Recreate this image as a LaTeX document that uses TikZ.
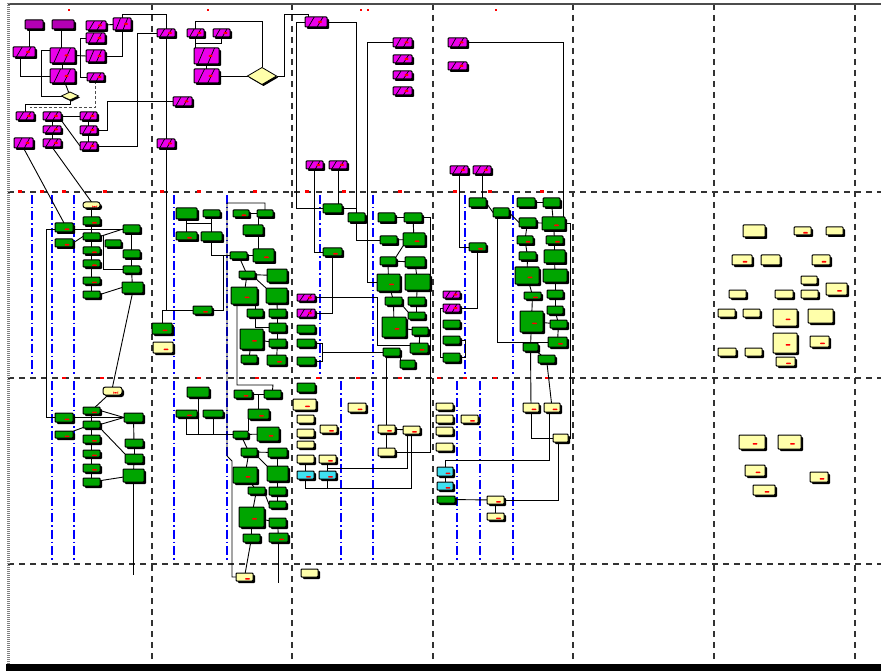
\documentclass[tikz,border=0pt]{standalone}
\usetikzlibrary{shapes.geometric,shadows,calc,backgrounds}
\definecolor{gcol}{RGB}{0,165,0}
\definecolor{ycol}{RGB}{255,255,170}
\definecolor{ccol}{RGB}{64,224,240}
\definecolor{mcol}{RGB}{235,0,235}
\definecolor{pcol}{RGB}{180,0,180}
\definecolor{gridcol}{RGB}{50,50,50}
\tikzset{
 bxs/.style={draw=black,line width=1pt,inner sep=0pt,outer sep=0pt,rectangle,rounded corners=0.8pt,
   general shadow={fill=black,shadow xshift=2pt,shadow yshift=-2pt}},
 gb/.style={bxs,fill=gcol},
 yb/.style={bxs,fill=ycol},
 yr/.style={bxs,fill=ycol,rounded corners=2.5pt},
 cb/.style={bxs,fill=ccol},
 pb/.style={bxs,fill=pcol},
 mb/.style={bxs,fill=mcol,path picture={
   \path (path picture bounding box.south west) coordinate (ha)
         (path picture bounding box.south east) coordinate (hb)
         (path picture bounding box.north west) coordinate (hc)
         (path picture bounding box.north east) coordinate (hd);
   \draw[line width=0.7pt] ($(ha)!0.15!(hb)$) -- ($(hc)!0.42!(hd)$) ($(ha)!0.55!(hb)$) -- ($(hc)!0.82!(hd)$);
   \fill[red] ($(ha)!0.5!(hd)+(2,-1)$) rectangle ++(4,2);}},
 rd/.style={path picture={\fill[red] ([xshift=0.5pt,yshift=-1pt]path picture bounding box.center) rectangle ++(5,1.6);}},
 dm/.style={diamond,draw=black,fill=ycol,line width=0.8pt,inner sep=0pt,outer sep=0pt,
   general shadow={fill=black,shadow xshift=1.5pt,shadow yshift=-1.5pt}},
 cn/.style={draw=black,line width=0.9pt},
 gl/.style={draw=gridcol,line width=1.2pt,dash pattern=on 6pt off 5pt},
 bl/.style={draw=blue,line width=1.2pt,dash pattern=on 9pt off 3pt on 1.5pt off 3pt},
}
\newcommand\nd[6]{%
 \pgfmathsetmacro\ndw{#5-#3}\pgfmathsetmacro\ndh{#6-#4}%
 \pgfmathsetmacro\ndx{(#3+#5)/2}\pgfmathsetmacro\ndy{(#4+#6)/2}%
 \node[#2,minimum width=\ndw pt,minimum height=\ndh pt] (#1) at (\ndx,\ndy) {};}
\begin{document}
\begin{tikzpicture}[x=1pt,y=-1pt]
\useasboundingbox (0,0) rectangle (881,671);
% ---------- row 1 ----------
\nd{m1}{pb}{25}{20}{43}{29}
\nd{m2}{pb}{52}{20}{74}{29}
\nd{m3}{mb}{86}{21}{106}{30}
\nd{m4}{mb}{113}{18}{131}{30}
\nd{m5}{mb}{13}{47}{35}{57}
\nd{m6}{mb}{50}{48}{75}{63}
\nd{m7}{mb}{50}{69}{75}{83}
\nd{m8}{mb}{86}{33}{105}{43}
\nd{m9}{mb}{86}{50}{105}{62}
\nd{m10}{mb}{87}{73}{104}{81}
\node[dm,minimum width=17pt,minimum height=8pt] (d1) at (70,96) {};
\nd{m11}{mb}{16}{112}{34}{120}
\nd{m12}{mb}{43}{112}{61}{120}
\nd{m13}{mb}{80}{112}{97}{120}
\nd{m14}{mb}{43}{126}{61}{133}
\nd{m15}{mb}{80}{126}{97}{134}
\nd{m16}{mb}{14}{138}{33}{148}
\nd{m17}{mb}{43}{139}{61}{147}
\nd{m18}{mb}{80}{142}{97}{150}
\nd{m19}{mb}{173}{97}{192}{106}
\nd{m20}{mb}{157}{29}{175}{37}
\nd{m21}{mb}{157}{139}{175}{148}
\nd{m22}{mb}{187}{29}{204}{37}
\nd{m23}{mb}{213}{29}{230}{37}
\nd{m24}{mb}{194}{48}{219}{64}
\nd{m25}{mb}{194}{69}{219}{83}
\node[dm,minimum width=29pt,minimum height=17pt] (d2) at (262,76) {};
\nd{m26}{mb}{305}{17}{327}{27}
\nd{m27}{mb}{393}{38}{412}{47}
\nd{m28}{mb}{393}{55}{412}{63}
\nd{m29}{mb}{393}{71}{412}{79}
\nd{m30}{mb}{393}{87}{412}{95}
\nd{m31}{mb}{448}{38}{467}{47}
\nd{m32}{mb}{448}{62}{467}{70}
\nd{m33}{mb}{306}{161}{323}{169}
\nd{m34}{mb}{329}{161}{347}{169}
\nd{m35}{mb}{450}{166}{468}{174}
\nd{m36}{mb}{473}{166}{491}{174}
% ---------- row 2, col 1 ----------
\nd{y1}{yr,rd}{83}{202}{100}{208}
\nd{g1}{gb,rd}{83}{217}{100}{225}
\nd{g2}{gb,rd}{55}{223}{73}{232}
\nd{g3}{gb}{123}{225}{140}{233}
\nd{g4}{gb}{83}{233}{100}{240}
\nd{g5}{gb,rd}{55}{239}{73}{247}
\nd{g6}{gb}{105}{240}{121}{247}
\nd{g7}{gb,rd}{83}{247}{100}{254}
\nd{g8}{gb}{123}{250}{140}{258}
\nd{g9}{gb,rd}{83}{260}{100}{267}
\nd{g10}{gb}{123}{266}{140}{273}
\nd{g11}{gb,rd}{83}{277}{100}{284}
\nd{g12}{gb}{122}{282}{143}{293}
\nd{g13}{gb}{83}{291}{100}{298}
% ---------- row 2, col 2 ----------
\nd{h1}{gb}{176}{208}{197}{219}
\nd{h2}{gb}{203}{210}{220}{217}
\nd{h3}{gb,rd}{176}{232}{197}{240}
\nd{h4}{gb}{201}{232}{222}{241}
\nd{h5}{gb,rd}{193}{306}{212}{314}
\nd{h6}{gb,rd}{152}{323}{172}{334}
\nd{y3}{yb,rd}{153}{342}{173}{353}
\nd{h7}{gb,rd}{233}{210}{249}{217}
\nd{h8}{gb}{257}{210}{273}{217}
\nd{h9}{gb}{243}{225}{263}{235}
\nd{h10}{gb}{230}{252}{247}{259}
\nd{h11}{gb,rd}{253}{249}{274}{262}
\nd{h12}{gb}{239}{271}{255}{278}
\nd{h13}{gb}{267}{269}{287}{282}
\nd{h14}{gb,rd}{231}{287}{257}{304}
\nd{h15}{gb}{266}{288}{287}{303}
\nd{h16}{gb}{247}{309}{263}{317}
\nd{h17}{gb}{269}{309}{286}{317}
\nd{h18}{gb}{269}{323}{286}{332}
\nd{h19}{gb,rd}{240}{329}{263}{349}
\nd{h20}{gb}{269}{339}{286}{347}
\nd{h21}{gb}{241}{355}{257}{363}
\nd{h22}{gb,rd}{267}{355}{286}{365}
% ---------- row 2, col 3 ----------
\nd{q1}{gb}{323}{204}{342}{213}
\nd{q2}{gb}{348}{213}{365}{222}
\nd{q3}{gb}{378}{213}{395}{222}
\nd{q4}{gb}{404}{213}{422}{222}
\nd{q5}{gb}{380}{236}{397}{244}
\nd{q6}{gb,rd}{403}{233}{425}{246}
\nd{q7}{gb,rd}{323}{248}{342}{256}
\nd{q8}{gb}{380}{257}{396}{265}
\nd{q9}{gb}{405}{257}{425}{267}
\nd{q10}{gb,rd}{377}{274}{400}{291}
\nd{q11}{gb}{405}{274}{430}{290}
\nd{q12}{gb}{385}{297}{402}{305}
\nd{q13}{gb}{408}{297}{425}{305}
\nd{q14}{gb}{408}{312}{425}{319}
\nd{q15}{gb,rd}{382}{317}{406}{337}
\nd{q16}{gb}{412}{327}{428}{335}
\nd{q17}{gb,rd}{410}{343}{428}{353}
\nd{q18}{gb}{383}{348}{400}{356}
\nd{q19}{gb}{400}{360}{415}{368}
\nd{pm1}{mb}{297}{294}{315}{301}
\nd{pm2}{mb}{297}{309}{315}{317}
\nd{q20}{gb}{297}{325}{315}{333}
\nd{q21}{gb}{297}{339}{315}{347}
\nd{q22}{gb}{297}{357}{315}{365}
% ---------- row 2, col 4 ----------
\nd{s1}{gb}{469}{198}{486}{207}
\nd{s2}{gb}{493}{208}{509}{217}
\nd{s3}{gb}{517}{198}{535}{207}
\nd{s4}{gb}{543}{198}{560}{207}
\nd{s5}{gb}{519}{218}{536}{227}
\nd{s6}{gb,rd}{542}{217}{565}{230}
\nd{s7}{gb,rd}{469}{243}{486}{251}
\nd{s8}{gb,rd}{517}{236}{533}{244}
\nd{s9}{gb,rd}{546}{236}{563}{244}
\nd{s10}{gb}{519}{252}{536}{260}
\nd{s11}{gb}{544}{250}{565}{263}
\nd{s12}{gb,rd}{515}{267}{539}{284}
\nd{s13}{gb}{543}{269}{567}{282}
\nd{s14}{gb,rd}{524}{292}{541}{299}
\nd{s15}{gb}{547}{290}{563}{298}
\nd{s16}{gb}{547}{306}{563}{314}
\nd{s17}{gb,rd}{520}{311}{543}{332}
\nd{s18}{gb}{550}{320}{567}{328}
\nd{s19}{gb,rd}{548}{337}{567}{347}
\nd{s20}{gb}{523}{343}{538}{351}
\nd{s21}{gb}{538}{355}{555}{363}
\nd{pm3}{mb}{443}{291}{460}{298}
\nd{pm4}{mb}{443}{304}{460}{312}
\nd{s22}{gb}{443}{320}{460}{328}
\nd{s23}{gb}{443}{336}{460}{344}
\nd{s24}{gb}{443}{353}{460}{362}
% ---------- row 3, col 1 ----------
\nd{y2}{yr,rd}{103}{387}{122}{395}
\nd{k1}{gb,rd}{83}{407}{100}{414}
\nd{k2}{gb,rd}{55}{413}{73}{422}
\nd{k3}{gb}{124}{413}{143}{422}
\nd{k4}{gb}{83}{421}{100}{428}
\nd{k5}{gb,rd}{55}{431}{73}{438}
\nd{k6}{gb,rd}{83}{435}{100}{443}
\nd{k7}{gb}{125}{439}{143}{447}
\nd{k8}{gb,rd}{83}{450}{100}{457}
\nd{k9}{gb}{125}{454}{143}{463}
\nd{k10}{gb,rd}{83}{464}{100}{472}
\nd{k11}{gb}{123}{469}{144}{482}
\nd{k12}{gb}{83}{478}{100}{486}
% ---------- row 3, col 2 ----------
\nd{l1}{gb}{187}{387}{209}{397}
\nd{l2}{gb,rd}{176}{410}{197}{417}
\nd{l3}{gb}{203}{410}{223}{417}
\nd{l4}{gb}{233}{431}{248}{438}
\nd{l5}{gb,rd}{234}{390}{252}{398}
\nd{l6}{gb}{264}{390}{281}{398}
\nd{l7}{gb,rd}{248}{409}{269}{419}
\nd{l8}{gb,rd}{257}{427}{279}{441}
\nd{l9}{gb}{241}{448}{257}{456}
\nd{l10}{gb}{268}{448}{287}{457}
\nd{l11}{gb,rd}{233}{467}{257}{483}
\nd{l12}{gb}{267}{466}{288}{481}
\nd{l13}{gb}{248}{487}{265}{494}
\nd{l14}{gb}{269}{487}{286}{495}
\nd{l15}{gb}{269}{501}{286}{508}
\nd{l16}{gb,rd}{239}{507}{264}{527}
\nd{l17}{gb}{269}{518}{286}{527}
\nd{l18}{gb}{243}{534}{260}{542}
\nd{l19}{gb,rd}{269}{533}{288}{542}
\nd{ybot}{yb,rd}{236}{573}{253}{581}
% ---------- row 3, col 3 ----------
\nd{r1}{gb}{297}{383}{315}{392}
\nd{r2}{yb,rd}{293}{399}{316}{410}
\nd{r3}{yb}{297}{415}{314}{423}
\nd{r4}{yb}{297}{429}{314}{437}
\nd{r5}{yb}{297}{441}{314}{448}
\nd{r6}{yb}{297}{455}{314}{463}
\nd{r7}{yb,rd}{319}{455}{336}{463}
\nd{c1}{cb,rd}{297}{471}{314}{479}
\nd{c2}{cb,rd}{319}{471}{336}{479}
\nd{r8}{yb,rd}{320}{425}{337}{433}
\nd{r9}{yb,rd}{348}{403}{366}{412}
\nd{r10}{yb,rd}{378}{425}{395}{433}
\nd{r11}{yb,rd}{403}{426}{420}{434}
\nd{r12}{yb}{378}{448}{395}{456}
\nd{r13}{yb}{301}{569}{318}{577}
% ---------- row 3, col 4 ----------
\nd{u1}{yb}{436}{403}{453}{410}
\nd{u2}{yb}{436}{415}{453}{423}
\nd{u3}{yb}{436}{427}{453}{435}
\nd{u4}{yb}{436}{443}{453}{451}
\nd{u5}{yb}{553}{434}{568}{442}
\nd{u6}{yb,rd}{461}{415}{478}{423}
\nd{c3}{cb,rd}{437}{467}{453}{476}
\nd{c4}{cb,rd}{437}{482}{453}{490}
\nd{u7}{gb}{437}{496}{455}{503}
\nd{u8}{yb,rd}{487}{496}{504}{504}
\nd{u9}{yb,rd}{487}{513}{504}{520}
\nd{u10}{yb,rd}{523}{403}{539}{412}
\nd{u11}{yb,rd}{544}{403}{560}{412}
% ---------- right cluster ----------
\nd{v1}{yb}{743}{225}{765}{237}
\nd{v2}{yb,rd}{794}{227}{811}{235}
\nd{v3}{yb}{826}{227}{843}{235}
\nd{v4}{yb,rd}{732}{255}{752}{265}
\nd{v5}{yb}{761}{255}{780}{265}
\nd{v6}{yb,rd}{812}{255}{830}{265}
\nd{v7}{yb}{801}{276}{817}{284}
\nd{v8}{yb,rd}{826}{283}{847}{295}
\nd{v9}{yb}{729}{290}{746}{298}
\nd{v10}{yb}{775}{290}{793}{298}
\nd{v11}{yb}{801}{290}{818}{298}
\nd{v12}{yb}{718}{309}{735}{317}
\nd{v13}{yb}{743}{309}{760}{317}
\nd{v14}{yb,rd}{773}{309}{797}{326}
\nd{v15}{yb}{808}{309}{833}{323}
\nd{v16}{yb,rd}{773}{333}{797}{353}
\nd{v17}{yb,rd}{810}{336}{829}{347}
\nd{v18}{yb}{718}{348}{736}{356}
\nd{v19}{yb}{745}{348}{762}{356}
\nd{v20}{yb,rd}{776}{357}{795}{366}
\nd{w1}{yb,rd}{739}{435}{765}{449}
\nd{w2}{yb,rd}{778}{435}{801}{449}
\nd{w3}{yb,rd}{745}{465}{765}{476}
\nd{w4}{yb,rd}{753}{485}{775}{495}
\nd{w5}{yb,rd}{810}{472}{828}{482}
% ---------- helper coordinates ----------
\coordinate (c1p) at (41,50);
\coordinate (c2p) at (273,385);
\coordinate (c3p) at (377,345);
\coordinate (c4p) at (407,468);
\coordinate (c5p) at (411,488);
\coordinate (c6p) at (549,460);
% ---------- background: frame, grid, connectors ----------
\begin{scope}[on background layer]
\fill[white] (0,0) rectangle (881,671);
\foreach \yy in {192,378,564} \draw[gl] (8,\yy) -- (881,\yy);
\foreach \xx in {152,292,433,573,714,855} \draw[gl] (\xx,4) -- (\xx,665);
\foreach \xx in {32,52,74,174,227,320,373,465,513} \draw[bl] (\xx,195) -- (\xx,376);
\foreach \xx in {52,74,174,227,341,373,457,480,513} \draw[bl] (\xx,381) -- (\xx,561);
\foreach \xx in {18,40,62,103,160,197,253,305,342,398,453,488,540} \fill[red] (\xx,190.5) rectangle ++(4,2.5);
\foreach \xx in {62,100,197,255,316,356,398,437,463,493,545} \fill[red] (\xx,376.5) rectangle ++(4,2.5);
\foreach \xx in {68,207,360,367,495} \fill[red] (\xx,9) rectangle ++(2,2);
\draw[line width=2pt,gray!60!black] (8,4) -- (881,4);
\draw[line width=3pt,gray,dash pattern=on 1pt off 1pt] (8,3) -- (8,667);
\fill[black] (6,664) rectangle (881,671);
% row 1 connectors
\draw[cn] ([xshift=-5pt]m1.south) -- ([xshift=-5pt]m1.south |- m5.north);
\draw[cn] ([xshift=-2pt]m2.south) -- ([xshift=-2pt]m2.south |- m6.north);
\draw[cn] ([xshift=-4pt]m5.south) |- (m7.west);
\draw[cn] (m6) -- (m7);
\draw[cn] (m7) -- (d1);
\draw[cn] (d1.west) -| (c1p) -- (c1p -| m6.west);
\draw[cn] (m6.east) -- (m9.west);
\draw[cn] (m8.west) -- ++(-6,0) |- (m10.west);
\draw[cn] (m9.east) -| (m4.south);
\draw[cn] (m3) -- (m4);
\draw[cn] (m4.north) -- ++(0,-4) -| (m20.north);
\draw[cn] (m20) -- (m21);
\draw[cn] (m21.south) |- (h5.west);
\draw[cn] (d1.south) -- ++(0,4) -| (m11.north);
\draw[line width=0.6pt,gray!60!black,densely dashed] (m10.south) |- ++(-66,26);
\draw[cn] (m12) -- (m13);
\draw[cn] (m12) -- (m14);
\draw[cn] (m14) -- (m17);
\draw[cn] (m13) -- (m15);
\draw[cn] (m15) -- (m18);
\draw[cn] (m12.south east) -- (m18.west);
\draw[cn] (m15.east) -- ++(10,0) |- (m19.west);
\draw[cn] (m18.east) -- ++(40,0) |- (m20.west);
\draw[cn] (m16.south) -- (g2.north);
\draw[cn] (m17.south) -- (y1.north);
\draw[cn] (m22.north) -- ++(0,-8) -| (d2.north);
\draw[cn] (m23.south) -- ++(0,6) -| (m22.south);
\draw[cn] (m22.south) -- (m22.south |- m24.north);
\draw[cn] (m24) -- (m25);
\draw[cn] (m25) -- (d2);
\draw[cn] (d2.east) -| ++(8,-62) -| ([xshift=3pt]m26.north west);
\draw[cn] (m26.west) -- ++(-9,0) |- (q1.west);
\draw[cn] (m26.east) -| (q2.north);
\draw[cn] (m27.west) -- ++(-26,0) |- (q10.west);
\draw[cn] (m31.east) -| ([xshift=-2pt]s6.north east);
\draw[cn] (m33.south) |- (q7.west);
\draw[cn] (m34.south) -- (m34.south |- q1.north);
\draw[cn] (m35.south) |- (s7.west);
\draw[cn] (m36.south) -- (m36.south |- s1.north);
% row 2 col 1
\draw[cn] (y1) -- (g1);
\draw[cn] (g1) -- (g4);
\draw[cn] (g4) -- (g7);
\draw[cn] (g7) -- (g9);
\draw[cn] (g9) -- (g11);
\draw[cn] (g11) -- (g13);
\draw[cn] (g3.west) -- ++(-77,0) |- (k3.west);
\draw[cn] (g5.east) -- (g4.west);
\draw[cn] (g4.east) -- (g3.west);
\draw[cn] ([xshift=3pt]g4.east) |- (g10.west);
\draw[cn] (g3) -- (g8);
\draw[cn] (g8) -- (g10);
\draw[cn] (g10) -- (g12);
\draw[cn] (g13.east) -- (g12.west);
\draw[cn] (g12.south) -- (y2.north);
% row 2 col 2
\draw[cn] (h1) -- (h3);
\draw[cn] (h2) -- (h4);
\draw[cn] (h1.south) -- ++(0,4) -| (h4.north);
\draw[cn] (h4.south) |- (h10.west);
\draw[cn] (h5.east) -- ++(11,0) |- (h10.west);
\draw[cn] (h5.west) -| (h6.north);
\draw[cn] (h8.north) -- ++(0,-7) -| (227,456) -- (232,461) |- (ybot.west);
\draw[cn] (h7) -- (h8);
\draw[cn] ([xshift=5pt]h9.north) -- ([xshift=5pt]h9.north |- h8.south);
\draw[cn] ([xshift=5pt]h9.south) -- ([xshift=5pt]h9.south |- h11.north);
\draw[cn] (h10) -- (h11);
\draw[cn] (h10) -- (h12);
\draw[cn] (h12) -- (h13);
\draw[cn] (h12) -- (h14);
\draw[cn] (h12.south east) -- (h15.north west);
\draw[cn] (h15) -- (h17);
\draw[cn] (h17) -- (h18);
\draw[cn] (h18) -- (h20);
\draw[cn] (h20) -- (h22);
\draw[cn] (h16.north) -- (h16.north |- h14.south);
\draw[cn] (h16.south) |- (h18.west);
\draw[cn] (h19) -- (h20);
\draw[cn] (h19) -- (h21);
\draw[cn] ([xshift=-7pt]h14.south) |- (c2p) -- (l6.north);
% row 2 col 3
\draw[cn] (q1.east) -- (q1.east -| q2.north);
\draw[cn] (q2.south) |- (q5.west);
\draw[cn] (q3) -- (q4);
\draw[cn] (q4) -- (q6);
\draw[cn] (q5) -- (q6);
\draw[cn] (q4.east) -- ++(8,0) |- (r12.east);
\draw[cn] (q6.south west) -- (q8.north east);
\draw[cn] (q8) -- (q9);
\draw[cn] (q8) -- (q10);
\draw[cn] (q9) -- (q11);
\draw[cn] (q10) -- (q12);
\draw[cn] (q11) -- (q13);
\draw[cn] (q13) -- (q14);
\draw[cn] (q12.south east) -- (q14.north west);
\draw[cn] (q12) -- (q15);
\draw[cn] (q15) -- (q16);
\draw[cn] (q16) -- (q17);
\draw[cn] (q18.south east) -- (q19.north west);
\draw[cn] (q7.south) |- (pm2.east);
\draw[cn] (pm1.east) -| (c3p) -- (c3p -| q17.west);
\draw[cn] (q21.east) -- ++(7,0) |- (q18.west);
\draw[cn] (q22.east) -- ++(7,0) |- (q18.west);
\draw[cn] (q18.south -| r10.north) -- (r10.north);
% row 2 col 4
\draw[cn] (s1.east) -- (s2.west);
\draw[cn] (s2.east) -- (s5.west);
\draw[cn] (s3) -- (s4);
\draw[cn] (s4) -- (s6);
\draw[cn] (s5) -- (s6);
\draw[cn] (s5) -- (s8);
\draw[cn] (s6) -- (s9);
\draw[cn] (s8) -- (s10);
\draw[cn] (s9) -- (s11);
\draw[cn] (s10) -- (s12);
\draw[cn] (s11) -- (s13);
\draw[cn] (s12) -- (s14);
\draw[cn] (s13) -- (s15);
\draw[cn] (s15) -- (s16);
\draw[cn] (s14) -- (s17);
\draw[cn] (s16) -- (s18);
\draw[cn] (s17) -- (s18);
\draw[cn] (s18) -- (s19);
\draw[cn] (s17) -- (s20);
\draw[cn] (s20) -- (s21);
\draw[cn] (s7.south) |- (pm4.east);
\draw[cn] ([xshift=-4pt]s2.south) |- (s19.west);
\draw[cn] (s23.east) -- ++(5,0) |- (s24.east);
\draw[cn] (pm4.west) -- ++(-3,0) |- (s24.west);
\draw[cn] (s6.east) -- ++(5,0) |- (u5.east);
% row 3 col 1
\draw[cn] (y2) -- (k1);
\draw[cn] (k1) -- (k4);
\draw[cn] (k4) -- (k6);
\draw[cn] (k6) -- (k8);
\draw[cn] (k8) -- (k10);
\draw[cn] (k10) -- (k12);
\draw[cn] (k1.east) -- (k3.west);
\draw[cn] (k4.east) -- (k3.west);
\draw[cn] (k5) -- (k4);
\draw[cn] (k4.south east) -- (k9.north west);
\draw[cn] (k3) -- (k7);
\draw[cn] (k7) -- (k9);
\draw[cn] (k9) -- (k11);
\draw[cn] (k12) -- (k11);
\draw[cn] (k11.south) -- ++(0,93);
% row 3 col 2
\draw[cn] (l2.south) |- (l4.west);
\draw[cn] (l1.south) -- (l1.south |- l4.west);
\draw[cn] (l3.south) -- (l3.south |- l4.west);
\draw[cn] (l5) -- (l6);
\draw[cn] (l7.north) -- (l7.north |- l5.east);
\draw[cn] (l7.south west) -- (l4.north east);
\draw[cn] (l4) -- (l8);
\draw[cn] (l4) -- (l9);
\draw[cn] (l9) -- (l10);
\draw[cn] (l9) -- (l11);
\draw[cn] (l9.south east) -- (l12.north west);
\draw[cn] (l10) -- (l12);
\draw[cn] (l12) -- (l14);
\draw[cn] (l14) -- (l15);
\draw[cn] (l11) -- (l13);
\draw[cn] (l13) -- (l16);
\draw[cn] (l13.south east) -- (l15.west);
\draw[cn] (l16) -- (l17);
\draw[cn] (l17) -- (l19);
\draw[cn] (l16) -- (l18);
\draw[cn] (l18) -- (ybot);
\draw[cn] (l19.south) -- ++(0,41);
% row 3 col 3
\draw[cn] (r10) -- (r11);
\draw[cn] (r10) -- (r12);
\draw[cn] (c2.north) |- (c4p) -- (c4p |- r11.south);
\draw[cn] (c1.south) |- (c5p) -- (c5p |- r11.south);
\draw[cn] (c2.south) -- (c2.south |- c5p);
\draw[cn] (r6) -- (c1);
\draw[cn] (r7) -- (c2);
% row 3 col 4
\draw[cn] (s20) -- (u10);
\draw[cn] (s21) -- (u11);
\draw[cn] (u10.south) |- (u5.west);
\draw[cn] (u11.south -| c6p) -- (c6p) -| (c3.north);
\draw[cn] ([xshift=-2pt]u5.south) |- (u8.east);
\draw[cn] (u7) -- (u8);
\draw[cn] (u8) -- (u9);
\draw[cn] (c3) -- (c4);
\end{scope}
\end{tikzpicture}
\end{document}
